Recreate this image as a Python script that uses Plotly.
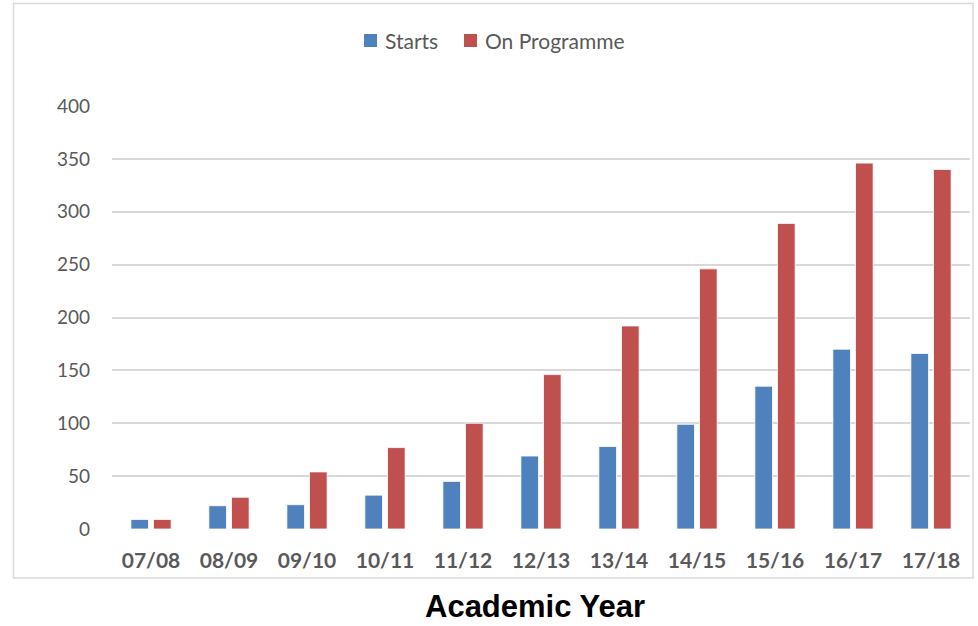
import plotly.graph_objects as go

years = ["07/08", "08/09", "09/10", "10/11", "11/12", "12/13", "13/14", "14/15", "15/16", "16/17", "17/18"]
starts = [9, 22, 23, 32, 45, 69, 78, 99, 135, 170, 166]
on_programme = [9, 30, 54, 77, 100, 146, 192, 246, 289, 346, 340]
y_ticks = [0, 50, 100, 150, 200, 250, 300, 350, 400]
series_names = ["Starts", "On Programme"]
series_colors = ["#4F81BD", "#C0504D"]

W, H = 978, 626
ml, mr, mt, mb = 112, 8, 106, 97
pw = W - ml - mr
ph = H - mt - mb

font_main = "Lato, 'Open Sans', sans-serif"
grey = "#595959"

fig = go.Figure()
for name, vals, col in zip(series_names, [starts, on_programme], series_colors):
    fig.add_trace(go.Bar(x=years, y=vals, name=name, showlegend=False,
                         marker=dict(color=col, line=dict(color="#FFFFFF", width=0.8))))

def px_x(x):
    return (x - ml) / pw

def px_y(y):
    return (H - mb - y) / ph

# manual legend (swatch + label) positioned like the reference
legend_swatch_x = [364, 464]
legend_text_x = [383, 483]
shapes = [dict(type="rect", xref="paper", yref="paper",
               x0=px_x(13.5), x1=px_x(973), y0=px_y(578), y1=px_y(3.5),
               line=dict(color="#D9D9D9", width=1.5), fillcolor="rgba(0,0,0,0)", layer="below")]
annotations = []
for name, col, sx, tx in zip(series_names, series_colors, legend_swatch_x, legend_text_x):
    shapes.append(dict(type="rect", xref="paper", yref="paper",
                       x0=px_x(sx), x1=px_x(sx + 13), y0=px_y(47), y1=px_y(34),
                       line=dict(width=0), fillcolor=col))
    annotations.append(dict(text=name, xref="paper", yref="paper", x=px_x(tx), y=px_y(41),
                            xanchor="left", yanchor="middle", showarrow=False,
                            font=dict(family=font_main, size=21, color=grey)))

annotations.append(dict(text="<b>Academic Year</b>", xref="paper", yref="paper",
                        x=px_x(535), y=px_y(625), xanchor="center", yanchor="bottom", showarrow=False,
                        borderpad=0,
                        font=dict(family="'Liberation Sans', Arial, sans-serif", size=31, color="#000000")))

fig.update_layout(
    width=W, height=H,
    margin=dict(l=ml, r=mr, t=mt, b=mb),
    paper_bgcolor="white", plot_bgcolor="white",
    barmode="group", bargap=0.42, bargroupgap=0.22,
    font=dict(family=font_main, color=grey, size=18),
    showlegend=False,
    xaxis=dict(showgrid=False, showline=False, zeroline=False, ticks="",
               tickfont=dict(size=21, color=grey, family=font_main, weight="bold"),
               ticklabelstandoff=17),
    yaxis=dict(range=[0, 400], tickvals=y_ticks, showgrid=True, gridcolor="#D9D9D9", gridwidth=1.5,
               zeroline=False, showline=False, ticks="", ticklabelstandoff=21,
               tickfont=dict(size=19, color=grey, family=font_main)),
    shapes=shapes,
    annotations=annotations,
)

fig.write_html("out.html")
